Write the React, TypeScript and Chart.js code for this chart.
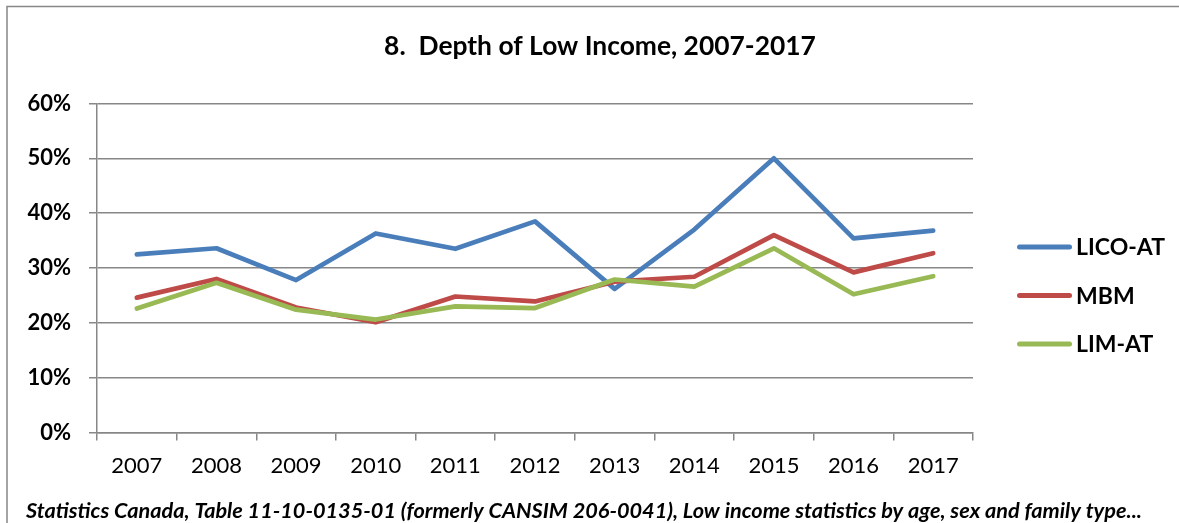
import React, { useEffect, useRef } from "react";
import { Chart, registerables } from "chart.js";

Chart.register(...registerables);

const YEARS = ["2007", "2008", "2009", "2010", "2011", "2012", "2013", "2014", "2015", "2016", "2017"];
const LICO_AT = [32.5, 33.6, 27.8, 36.3, 33.5, 38.5, 26.2, 37.0, 50.0, 35.4, 36.8];
const MBM = [24.6, 28.0, 22.8, 20.1, 24.8, 23.9, 27.5, 28.4, 36.0, 29.2, 32.7];
const LIM_AT = [22.6, 27.3, 22.4, 20.6, 23.0, 22.7, 27.9, 26.6, 33.6, 25.2, 28.5];
const SERIES_LABELS = ["LICO-AT", "MBM", "LIM-AT"];
const SERIES_COLORS = ["#4A7EBB", "#BE4B48", "#98B954"];
const Y_TICKS_MIN = 0;
const Y_TICKS_MAX = 60;
const Y_STEP = 10;
const TITLE = "8.  Depth of Low Income, 2007-2017";
const CAPTION =
  "Statistics Canada, Table 11-10-0135-01 (formerly CANSIM 206-0041), Low income statistics by age, sex and family type...";

const FONT = "Lato, 'Liberation Sans', sans-serif";
const GRID = "#878787";

const decorPlugin = {
  id: "decor",
  afterDraw(chart: any) {
    const ctx = chart.ctx;
    ctx.save();
    // outer frame (left + top)
    ctx.strokeStyle = GRID;
    ctx.lineWidth = 1.5;
    ctx.beginPath();
    ctx.moveTo(7, 523);
    ctx.lineTo(7, 6.5);
    ctx.lineTo(1179, 6.5);
    ctx.stroke();

    // title
    ctx.fillStyle = "#000";
    ctx.font = `bold 26.4px ${FONT}`;
    ctx.textBaseline = "middle";
    ctx.textAlign = "center";
    ctx.fillText(TITLE, 600, 46);

    // legend
    const sets = chart.data.datasets;
    const top = 247;
    const gap = 48.5;
    sets.forEach((ds: any, i: number) => {
      const y = top + i * gap;
      ctx.strokeStyle = ds.borderColor;
      ctx.lineWidth = 5;
      ctx.lineCap = "round";
      ctx.beginPath();
      ctx.moveTo(1019.5, y);
      ctx.lineTo(1069.5, y);
      ctx.stroke();
      ctx.fillStyle = "#000";
      ctx.font = `bold 23px ${FONT}`;
      ctx.textBaseline = "middle";
      ctx.textAlign = "left";
      ctx.fillText(ds.label, 1076, y + 1);
    });

    // caption
    ctx.fillStyle = "#000";
    ctx.font = `italic bold 21.7px ${FONT}`;
    ctx.textBaseline = "middle";
    ctx.textAlign = "left";
    ctx.fillText(CAPTION, 26, 511);
    ctx.restore();
  },
};

export default function App() {
  const ref = useRef<HTMLCanvasElement | null>(null);

  useEffect(() => {
    if (!ref.current) return;
    const values = [LICO_AT, MBM, LIM_AT];
    const chart = new Chart(ref.current, {
      type: "line",
      data: {
        labels: YEARS,
        datasets: values.map((v, i) => ({
          label: SERIES_LABELS[i],
          data: v,
          borderColor: SERIES_COLORS[i],
          backgroundColor: SERIES_COLORS[i],
          borderWidth: 4.7,
          pointRadius: 0,
          tension: 0,
          fill: false,
          borderCapStyle: "round",
          borderJoinStyle: "round",
          order: 3 - i,
        })),
      },
      options: {
        responsive: false,
        animation: false,
        devicePixelRatio: 1,
        layout: { padding: { left: 10, right: 206, top: 103.5, bottom: 40.5 } },
        plugins: {
          legend: { display: false },
          tooltip: { enabled: false },
          title: { display: false },
        },
        scales: {
          x: {
            type: "category",
            offset: true,
            grid: {
              display: true,
              drawOnChartArea: false,
              drawTicks: true,
              tickLength: 8,
              color: GRID,
              lineWidth: 1.5,
              offset: true,
            },
            border: { display: true, color: GRID, width: 1.5 },
            ticks: {
              color: "#000",
              font: { family: FONT, size: 22 },
              padding: 12,
              maxRotation: 0,
              autoSkip: false,
            },
            afterFit: (s: any) => {
              s.height = 50;
            },
          },
          y: {
            min: Y_TICKS_MIN,
            max: Y_TICKS_MAX,
            grid: {
              color: GRID,
              lineWidth: 1.5,
              tickLength: 8,
              drawTicks: true,
            },
            border: { display: true, color: GRID, width: 1.5 },
            ticks: {
              stepSize: Y_STEP,
              color: "#000",
              font: { family: FONT, size: 22, weight: "bold" },
              padding: 18,
              callback: (v: any) => `${v}%`,
            },
            afterFit: (s: any) => {
              s.width = 87;
            },
          },
        },
      },
      plugins: [decorPlugin],
    } as any);
    return () => chart.destroy();
  }, []);

  return (
    <div style={{ position: "absolute", left: 0, top: 0, width: 1179, height: 523, background: "#fff" }}>
      <canvas ref={ref} width={1179} height={523} style={{ display: "block" }} />
    </div>
  );
}
